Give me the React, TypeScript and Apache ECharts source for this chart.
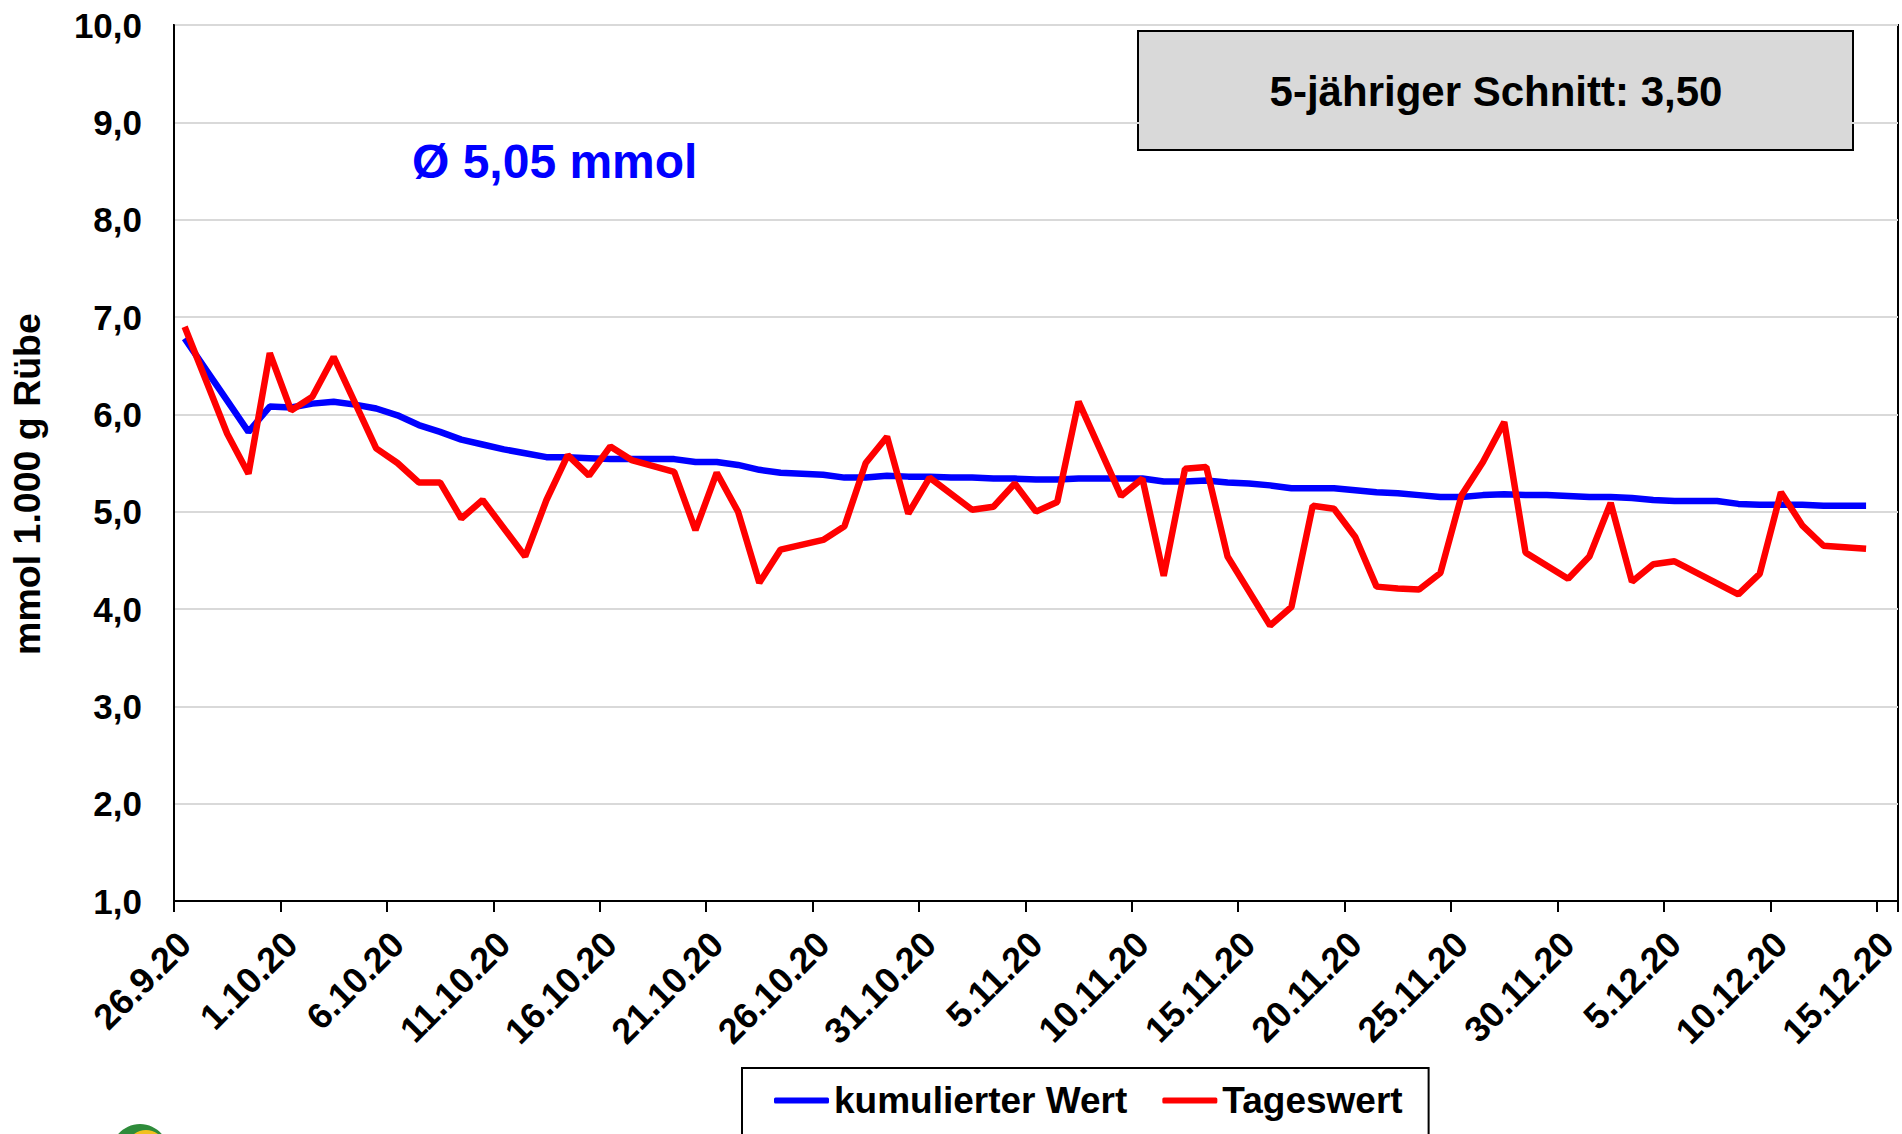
import React, { useEffect, useRef } from 'react';
import * as echarts from 'echarts';

const FONT = '"Liberation Sans", Arial, sans-serif';

const dates = [
  '26.9.20', '27.9.20', '28.9.20', '29.9.20', '30.9.20',
  '1.10.20', '2.10.20', '3.10.20', '4.10.20', '5.10.20', '6.10.20', '7.10.20', '8.10.20', '9.10.20', '10.10.20',
  '11.10.20', '12.10.20', '13.10.20', '14.10.20', '15.10.20', '16.10.20', '17.10.20', '18.10.20', '19.10.20', '20.10.20',
  '21.10.20', '22.10.20', '23.10.20', '24.10.20', '25.10.20', '26.10.20', '27.10.20', '28.10.20', '29.10.20', '30.10.20', '31.10.20',
  '1.11.20', '2.11.20', '3.11.20', '4.11.20', '5.11.20', '6.11.20', '7.11.20', '8.11.20', '9.11.20', '10.11.20',
  '11.11.20', '12.11.20', '13.11.20', '14.11.20', '15.11.20', '16.11.20', '17.11.20', '18.11.20', '19.11.20', '20.11.20',
  '21.11.20', '22.11.20', '23.11.20', '24.11.20', '25.11.20', '26.11.20', '27.11.20', '28.11.20', '29.11.20', '30.11.20',
  '1.12.20', '2.12.20', '3.12.20', '4.12.20', '5.12.20', '6.12.20', '7.12.20', '8.12.20', '9.12.20', '10.12.20',
  '11.12.20', '12.12.20', '13.12.20', '14.12.20', '15.12.20',
];

const kumulierterWert = [
  6.78, 6.46, 6.14, 5.82, 6.08, 6.07, 6.11, 6.13, 6.10, 6.06,
  5.99, 5.89, 5.82, 5.74, 5.69, 5.64, 5.60, 5.56, 5.56, 5.55,
  5.54, 5.54, 5.54, 5.54, 5.51, 5.51, 5.48, 5.43, 5.40, 5.39,
  5.38, 5.35, 5.35, 5.37, 5.36, 5.36, 5.35, 5.35, 5.34, 5.34,
  5.33, 5.33, 5.34, 5.34, 5.34, 5.34, 5.31, 5.31, 5.32, 5.30,
  5.29, 5.27, 5.24, 5.24, 5.24, 5.22, 5.20, 5.19, 5.17, 5.15,
  5.15, 5.17, 5.18, 5.17, 5.17, 5.16, 5.15, 5.15, 5.14, 5.12,
  5.11, 5.11, 5.11, 5.08, 5.07, 5.07, 5.07, 5.06, 5.06, 5.06,
  null,
];

const tageswert = [
  6.90, null, 5.80, 5.39, 6.63, 6.04, 6.18, 6.59, null, 5.65,
  5.50, 5.30, 5.30, 4.93, 5.12, null, 4.54, 5.12, 5.58, 5.37,
  5.67, 5.53, null, 5.41, 4.81, 5.40, 5.00, 4.27, 4.61, null,
  4.71, 4.85, 5.50, 5.77, 4.98, 5.35, null, 5.02, 5.05, 5.29,
  5.00, 5.10, 6.13, null, 5.16, 5.34, 4.34, 5.44, 5.46, 4.54,
  null, 3.83, 4.02, 5.06, 5.03, 4.74, 4.23, 4.21, 4.20, 4.37,
  5.17, 5.51, 5.92, 4.58, null, 4.31, 4.54, 5.09, 4.28, 4.46,
  4.49, null, null, 4.15, 4.36, 5.20, 4.86, 4.65, null, 4.62,
  null,
];

const seriesNames = ['kumulierter Wert', 'Tageswert'];
const yAxisTitle = 'mmol 1.000 g Rübe';
const averageLabel = 'Ø 5,05 mmol';
const fiveYearLabel = '5-jähriger Schnitt: 3,50';

export default function App() {
  const ref = useRef<HTMLDivElement>(null);
  useEffect(() => {
    if (!ref.current) return;
    const chart = echarts.init(ref.current, null, { renderer: 'svg' });
    chart.setOption({
      animation: false,
      backgroundColor: '#ffffff',
      grid: {
        left: 174,
        top: 25,
        right: 4,
        bottom: 233,
        containLabel: false,
        outerBoundsMode: 'none',
        show: true,
        borderColor: '#000',
        borderWidth: 2,
        backgroundColor: '#fff',
      },
      xAxis: {
        type: 'category',
        data: dates,
        boundaryGap: true,
        axisLine: { show: true, lineStyle: { color: '#000', width: 2 } },
        axisTick: { show: true, interval: 4, length: 11, alignWithLabel: false, lineStyle: { color: '#000', width: 2 } },
        axisLabel: {
          interval: 4,
          rotate: 45,
          margin: 37,
          color: '#000',
          fontSize: 36,
          fontWeight: 'bold',
          fontFamily: FONT,
        },
        splitLine: { show: false },
      },
      yAxis: {
        type: 'value',
        min: 1,
        max: 10,
        interval: 1,
        axisLine: { show: true, lineStyle: { color: '#000', width: 2 } },
        axisTick: { show: false },
        axisLabel: {
          margin: 32,
          color: '#000',
          fontSize: 35,
          fontWeight: 'bold',
          fontFamily: FONT,
          formatter: (v: number) => v.toFixed(1).replace('.', ','),
        },
        splitLine: { show: true, lineStyle: { color: '#d9d9d9', width: 2 } },
      },
      legend: {
        left: 742,
        top: 1068,
        orient: 'horizontal',
        padding: [14, 26, 40, 32],
        itemGap: 35,
        itemWidth: 55,
        itemHeight: 6,
        icon: 'roundRect',
        borderColor: '#000',
        borderWidth: 2,
        backgroundColor: '#fff',
        data: seriesNames,
        textStyle: { fontSize: 37, fontWeight: 'bold', color: '#000', fontFamily: FONT },
      },
      series: [
        {
          name: seriesNames[0],
          type: 'line',
          data: kumulierterWert,
          symbol: 'none',
          connectNulls: true,
          itemStyle: { color: '#0000ff' },
          lineStyle: { color: '#0000ff', width: 6.5 },
        },
        {
          name: seriesNames[1],
          type: 'line',
          data: tageswert,
          symbol: 'none',
          connectNulls: true,
          itemStyle: { color: '#ff0000' },
          lineStyle: { color: '#ff0000', width: 6.5 },
        },
      ],
      graphic: [
        {
          type: 'text',
          x: 27,
          y: 484,
          rotation: Math.PI / 2,
          style: {
            text: yAxisTitle,
            align: 'center',
            verticalAlign: 'middle',
            fontSize: 37.5,
            fontWeight: 'bold',
            fontFamily: FONT,
            fill: '#000',
          },
        },
        {
          type: 'text',
          x: 412,
          y: 161,
          style: {
            text: averageLabel,
            align: 'left',
            verticalAlign: 'middle',
            fontSize: 48,
            fontWeight: 'bold',
            fontFamily: FONT,
            fill: '#0000ff',
          },
        },
        {
          type: 'rect',
          shape: { x: 1138, y: 31, width: 715, height: 119 },
          style: { fill: '#d9d9d9', stroke: '#000', lineWidth: 2 },
        },
        {
          type: 'text',
          x: 1496,
          y: 91,
          style: {
            text: fiveYearLabel,
            align: 'center',
            verticalAlign: 'middle',
            fontSize: 42,
            fontWeight: 'bold',
            fontFamily: FONT,
            fill: '#000',
          },
        },
        {
          type: 'ellipse',
          shape: { cx: 140, cy: 1156, rx: 30, ry: 32 },
          style: { fill: '#2e8b3a' },
        },
        {
          type: 'ellipse',
          shape: { cx: 146, cy: 1163, rx: 25, ry: 33 },
          style: { fill: '#f2c01e' },
        },
      ],
    });
    return () => chart.dispose();
  }, []);
  return (
    <div
      ref={ref}
      style={{ position: 'absolute', left: 0, top: 0, width: 1902, height: 1134, background: '#fff' }}
    />
  );
}
